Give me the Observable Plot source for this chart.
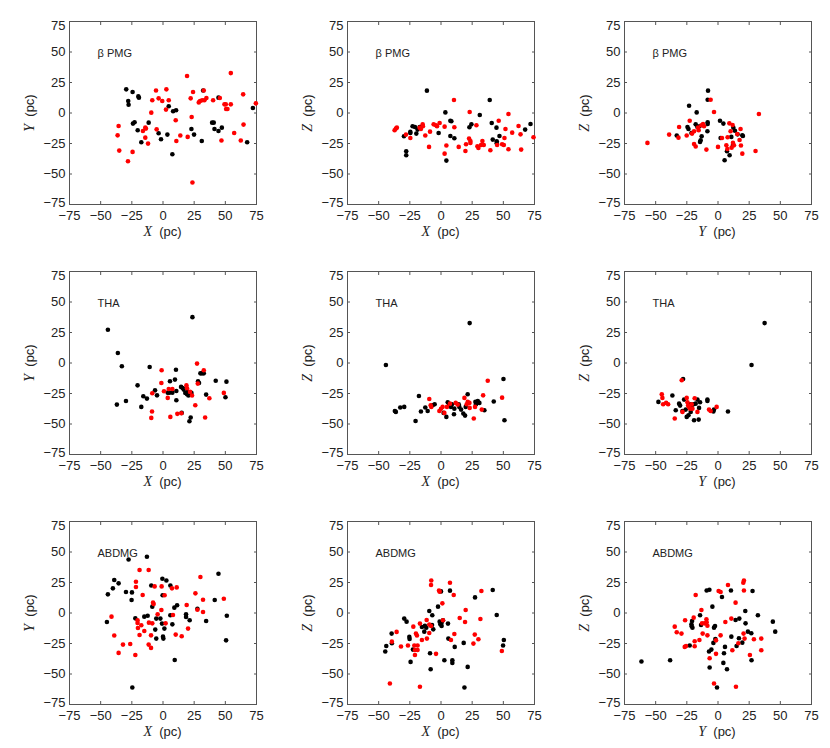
<!DOCTYPE html>
<html><head><meta charset="utf-8">
<script src="https://cdn.jsdelivr.net/npm/d3@7"></script>
<script src="https://cdn.jsdelivr.net/npm/@observablehq/plot@0.6"></script>
<style>
body{margin:0;background:#fff;font-family:"Liberation Sans",Arial,sans-serif}
#wrap{position:relative;width:830px;height:748px;overflow:hidden}
.panel{position:absolute}
.lab{position:absolute;font-size:13px;color:#222;white-space:nowrap;line-height:1}
.lab i{font-family:"Liberation Serif","DejaVu Serif",serif;font-size:14px}
</style></head><body><div id="wrap"></div><script>
// ---- data (pc) ----
const groups = ["β PMG", "THA", "ABDMG"];
const projections = [["X", "Y"], ["X", "Z"], ["Y", "Z"]];
const tickValues = [-75, -50, -25, 0, 25, 50, 75];

// β PMG
const bpmgXY_black = [[-29.5,19.4],[-27.9,9.8],[-27.6,6.8],[-24.4,17.2],[-19.3,12.6],[-19.8,13.6],[-24.1,-8.7],[-22.8,-7.6],[-20.3,-14.2],[-11.5,-7.9],[-17.4,-24],[-3.5,-16.6],[-1.6,-21.5],[3.5,-17.7],[4.6,5.5],[8.1,1.4],[10.5,2.2],[7.5,-33.8],[22.8,-13.1],[24.9,-17.7],[31.1,-22.9],[32.2,18.5],[39.4,-7.9],[40.7,-7.9],[41.3,-13.1],[44.5,-14.7],[47.2,-12],[44.5,12.6],[67.5,-24],[72.1,4.1]];
const bpmgXY_red = [[-35.6,-10.6],[-36.4,-18.3],[-35.1,-30.8],[-28.1,-39.5],[-24.4,-31.9],[-16.1,-14.7],[-14.2,-12],[-14.2,-20.2],[-12,-25.1],[-9.4,0.3],[-8.6,10.4],[-13.7,-12.8],[-5.6,18.5],[-5.1,-13.4],[-3.5,12],[-0.6,9.8],[2.7,19.4],[2.4,2.8],[4.6,10.4],[10.2,-6],[10.7,-22.9],[13.9,-18.5],[19.3,30.3],[19.8,-19.6],[22.2,12],[23,-3.3],[24.1,17.2],[23.6,-57],[28.7,8.7],[29.7,9.8],[31.4,10.4],[32.7,18.5],[33.2,10.4],[34.8,12.3],[40.2,10.4],[49.3,7.1],[50.4,7.1],[50.6,3.3],[51.7,3.3],[45.6,12.3],[46.9,-22.6],[54.4,7.1],[54.4,32.7],[57.1,-16.4],[62.4,-22.6],[64.3,15.3],[64.6,-9.5],[74.5,7.9]];
const bpmgXZ_black = [[-11.3,18.3],[-29.7,-19.1],[-27.9,-31.4],[-27.9,-34.6],[-24.6,-15.5],[-24.6,-16.4],[-22.8,-10.9],[-20.9,-11.5],[-19.8,-16.9],[-18.8,-13.6],[-17.1,-11.5],[-1.9,-16.4],[3.5,0.5],[4.3,-39],[7.5,-6.3],[8.3,-6.8],[7.5,-18.8],[10.7,-20.7],[22.8,-11.7],[24.4,-9.3],[31.1,-1.6],[39.1,10.6],[40.7,-8.2],[41.5,-21.8],[44.5,-12],[44.7,-23.2],[44.7,-24.8],[46.9,-18.8],[71.8,-9],[67.5,-13.6]];
const bpmgXZ_red = [[-37.2,-14.2],[-36.2,-12.8],[-35.4,-12],[-28.1,-17.7],[-24.6,-20.5],[-17.1,-12],[-14.7,-9.3],[-14.5,-10.9],[-16.1,-13.1],[-12.6,-18.5],[-9.6,-27.8],[-8.8,-15.3],[-5.9,-9.3],[-4,-10.1],[-3.2,-10.9],[-1.1,-8.2],[2.9,-11.2],[2.9,-33.3],[4.3,-26.7],[10.4,10.6],[10.7,-11.7],[14.2,-27.8],[19.6,-31.1],[20.1,-25.6],[22.5,-21],[23,0.8],[23.6,-22.9],[23.6,-24.5],[28.4,-10.1],[29.2,-27.3],[30,-28.6],[32.1,-26.2],[33.2,-22.9],[34.3,-26.2],[39.6,-30.5],[46.3,-6.3],[45,-26.2],[49,-25.6],[50.4,-26.2],[50.9,-20.5],[51.7,-13.1],[54.1,-29.7],[54.1,-0.8],[57.1,-16.1],[62.2,-10.6],[63.8,-17.5],[64.3,-30],[74.2,-19.9]];
const bpmgYZ_black = [[-8,18.3],[-8.3,10.9],[-23.2,6],[-17.1,0.5],[-33.1,-18.5],[-24.5,-11.5],[-23.7,-13.1],[-21.3,-16.4],[-17.9,-9.3],[-16.5,-11.5],[-14.9,-10.9],[-13.1,-19.1],[-13.9,-22.4],[-14.4,-23.7],[-8.3,-7.6],[-8.3,-9],[-8.5,-15],[1.6,-6.3],[2.1,-20.5],[4.3,-8.7],[5.3,-38.7],[7.2,-31.4],[9.3,-34.6],[12.3,-12],[13.6,-14.5],[15.7,-17.5],[19.5,-18.3],[20,-18.8],[10.7,-19.6],[12,-26.2]];
const bpmgYZ_red = [[-5.9,10.9],[-56.6,-24.5],[-39.2,-17.7],[-31.2,-11.5],[-31.7,-20.2],[-25.1,-18.5],[-22.7,-6.3],[-20.8,-16.9],[-19.2,-15],[-19.2,-25.4],[-17.9,-27.5],[-16,-12],[-15.5,-14.2],[-13.3,-10.1],[-12,-9],[-11.2,-10.9],[-9.3,-30],[-3.2,0.8],[0,-27.8],[3.2,-20.5],[6.7,-26.5],[7.5,-29.5],[7.7,-19.9],[9.1,-8.5],[11.7,-9.8],[10.1,-15],[10.9,-28.4],[12,-24.5],[12.8,-26.5],[15.5,-17.2],[17.3,-22.1],[18.1,-13.1],[18.4,-26.7],[19.5,-33.3],[30.1,-31.1],[32.8,-0.8]];

// THA
const thaXY_black = [[-44.2,27.3],[-36.2,8.2],[-33,-2.7],[-37,-34.1],[-29.7,-31.1],[-20.4,-18.3],[-17.4,-36],[-15.8,-27.3],[-12.9,-29.2],[-10.7,-3.3],[-6.4,-22.4],[-4.8,-26.5],[5.6,-15],[3.8,-24.3],[5.1,-24.3],[7.5,-24.3],[9.6,-13.6],[10.4,-5.5],[10.7,-22.9],[10.7,-30.5],[14.5,-19.6],[15.8,-20.5],[16.6,-21.8],[15,-40.9],[17.9,-24.5],[19.3,-25.6],[19.8,-23.7],[20.4,-26.7],[21.4,-24],[21.2,-47.7],[22.2,-44.7],[23.6,37.6],[22.8,-24.5],[28.1,-15],[28.9,-16.4],[30,-8.5],[31.3,-8.5],[32.7,-8.5],[34.6,-25.9],[42.3,-14.5],[50.1,-28.1],[50.9,-15.3]];
const thaXY_red = [[-1.1,-6],[-1.3,-16.4],[-8.6,-24.8],[-8.8,-39.8],[-9.4,-45],[0.8,-23.2],[3.8,-28.6],[4.6,-21.3],[7.5,-21.3],[5.9,-44.2],[11.5,-41.7],[14.7,-41.2],[18.8,-18.3],[19.3,-20.7],[21.7,-23.7],[23.3,-26.7],[25.9,-34.6],[27.3,-0.5],[27.9,-16.9],[32.7,-6],[33.8,-44.7],[37.2,-28.9],[48.8,-24.5]];
const thaXZ_black = [[-44.2,-1.6],[-37,-39.3],[-36.2,-40.1],[-32.7,-36.5],[-29.5,-36],[-20.4,-47.5],[-17.7,-27],[-16.1,-39.8],[-12.6,-36.5],[-10.7,-39.3],[-6.7,-34.6],[-5.1,-33.8],[2.1,-40.9],[4.3,-44.2],[5.4,-32.2],[6.7,-33.8],[8,-36],[8.8,-33.8],[10.4,-42],[10.7,-37.4],[14.2,-33.8],[14.7,-36],[16.1,-38.2],[17.9,-41.4],[19.3,-43.1],[19.8,-36],[21.4,-25.6],[23,32.7],[27.6,-31.9],[29.5,-31.1],[30.8,-32.7],[28.1,-33.8],[34.8,-38.7],[42.3,-31.6],[50.1,-13.1],[50.9,-46.9]];
const thaXZ_red = [[-9.4,-29.5],[-8.3,-34.6],[-7.8,-36],[-1.3,-39.3],[0,-37.6],[1.3,-36],[2.7,-40.9],[4.8,-36],[7.2,-33.3],[11.8,-32.7],[13.4,-34.1],[18.8,-28.6],[20.6,-33.8],[21.4,-31.9],[22.8,-32.7],[23,-36.8],[26.3,-45.5],[27.3,-36],[32.7,-38.2],[33.8,-26.5],[37.5,-14.5],[49,-28.4]];
const thaYZ_black = [[37.4,32.7],[26.9,-1.6],[8,-39.8],[-3.2,-38.2],[-3.7,-39.8],[-8.5,-30],[-8.5,-31.1],[-14.4,-32.2],[-15.2,-36.8],[-19.2,-46.9],[-15.5,-46.4],[-17.9,-33.3],[-16.5,-30],[-28,-13.1],[-36.6,-26.7],[-47.8,-31.9],[-33.9,-38.7],[-31.2,-33.3],[-30.4,-34.9],[-27.2,-30],[-25.9,-38.2],[-25.1,-44.2],[-23.7,-42.8],[-21.9,-40.1],[-28.5,-39.3],[-22.4,-33.8],[-21.3,-36],[-19.7,-33.8]];
const thaYZ_red = [[-29.1,-14.2],[-45.1,-25.6],[-44.6,-28.6],[-44,-33.8],[-41.6,-32.7],[-40,-33.8],[-34.7,-45.5],[-28.5,-40.1],[-25.1,-28.6],[-24.5,-32.2],[-24,-34.9],[-23.2,-36],[-22.4,-37.4],[-21.1,-33.8],[-20.5,-37.4],[-18.7,-28.9],[-16.5,-40.1],[-7.2,-38.2],[-5.9,-39.3],[-1.1,-36]];

// ABDMG
const abdmgXY_black = [[-27.6,43.9],[-12.9,46.1],[-39.1,27],[-35.6,24.3],[-40.2,20.2],[-44.2,15.3],[-29.7,17.2],[-24.9,16.9],[-25.2,10.6],[-45,-7.4],[-22.2,-4.4],[-15,-3],[-12.3,-2.2],[-9.4,22.6],[-8.6,5.2],[-5.4,-4.6],[-6.2,-13.6],[-5.4,-21],[-2.1,-4.6],[-0.5,28.1],[2.7,26.7],[-0.3,14.5],[-0.8,-8.7],[1.1,-12.8],[0,-19.4],[0.3,-21],[5.9,22.6],[5.9,-1.9],[7.5,-9.3],[9.1,4.4],[11.3,6.3],[9.4,-38.5],[18.5,-1.1],[18.5,-3.3],[21.4,-6],[27.6,3.5],[34.6,-6.5],[41.5,10.6],[44.5,32.2],[51.2,-2.2],[50.6,-22.4],[-24.6,-61.1]];
const abdmgXY_red = [[-41.3,-3],[-39.1,-18.5],[-32.1,-25.9],[-35.6,-32.7],[-26.3,-25.4],[-22.2,-34.4],[-21.7,25.6],[-21.7,21.3],[-18.8,35.2],[-11.5,35.2],[-16.3,14.7],[-20.4,-6],[-20.4,-8.2],[-20.1,-12.3],[-17.4,-10.1],[-18.8,-18],[-15,-14.7],[-11.3,-7.9],[-8.6,-8.5],[-9.6,-18.3],[-11.5,-25.9],[-9.6,-28.6],[-8,8.5],[-7.5,7.4],[-6.7,21.8],[-4.3,-1.1],[-1.1,21.8],[-1.3,2.5],[1.3,14.5],[2.1,-8.5],[8,-1.6],[7.2,20.2],[11,21],[10.2,-17.7],[15,-19.1],[19,6.5],[20.1,-12.8],[26,16.1],[27.6,2.7],[30,29.5],[32.1,10.9],[32.1,0.8],[48.8,11.7]];
const abdmgXZ_black = [[-44.7,-31.6],[-43.9,-27],[-39.6,-16.9],[-39.4,-24.8],[-29.5,-4.6],[-27.6,-7.1],[-25.4,-19.6],[-25.2,-21.3],[-24.4,-40.1],[-22.5,-30],[-15.3,-11.5],[-12.9,-10.4],[-11.8,-12],[-13.4,-15.3],[-6.2,-13.4],[-7.2,-9.8],[-9.4,1.6],[-7,-1.9],[-8.8,-33],[-8.3,-46.1],[-2.4,5.2],[-1.1,-7.1],[-0.5,-9.3],[0.5,-7.9],[0.5,-10.6],[1.6,-6],[0,17.7],[2.7,-38.7],[5.6,-8.7],[5.9,-21],[7.2,18.3],[9.1,-38.7],[9.1,-40.9],[11,-27.8],[18.2,-24.5],[18.8,-61.1],[21.4,-44.2],[27.3,12.8],[41.5,18.8],[44.7,-1.6],[50.4,-22.1],[49.8,-26.7]];
const abdmgXZ_red = [[-41,-57.8],[-39.4,-23.5],[-35.6,-15.5],[-32.1,-27.5],[-26.5,-26.7],[-22.2,-11.2],[-21.4,-26.7],[-20.9,-30.3],[-20.9,-34.4],[-18.8,-26.7],[-18.8,-30.3],[-20.1,-16.9],[-19.3,-18.5],[-16.9,-60.5],[-16.9,-8.7],[-15.3,-22.1],[-11.5,-5.7],[-11.3,-21],[-9.4,-9.5],[-9.4,-16.4],[-8,-10.6],[-7.8,26.7],[-8,22.9],[-4,-33.5],[-1.6,18.5],[-1.1,17.5],[1.1,7.9],[1.6,-6],[7.2,24.8],[8,-22.1],[10.2,14.7],[10.7,-17.2],[15,-4.1],[19.3,-7.4],[19.8,2.5],[27.1,-17.7],[30,-21.5],[26,-25.1],[31.6,-4.9],[32.4,18],[48.8,-31.1]];
const abdmgYZ_black = [[-61.4,-39.8],[-38.4,-38.7],[-21.3,-9.3],[-20.8,-6.5],[-20.5,-12],[-21.1,-10.9],[-22.7,-26.7],[-14.4,-1.9],[-13.6,-9.8],[-9.1,18.5],[-6.9,19.1],[-6.7,-44.7],[-7.2,-31.6],[-4.5,5.2],[-5.3,-30],[-3.2,-12],[-2.4,-10.6],[-3.7,-24.5],[-2.1,-21.3],[-0.8,-61.1],[3.2,13.1],[4.3,-40.9],[5.6,-27.8],[4.8,-33],[7.2,-46.1],[10.4,18.5],[10.7,-19.4],[14.1,-5.7],[17.1,-4.6],[16.8,-20.7],[14.9,-27],[21.9,1.6],[22.1,-8.5],[24,-15.3],[26.7,-16.6],[26.9,-38.7],[27.7,18],[19.5,-24.3],[32,-1.9],[44,-7.1],[45.9,-15.3]];
const abdmgYZ_red = [[-34.7,-11.2],[-33.1,-15.8],[-29.3,-16.9],[-26.7,-27.8],[-25.6,-27],[-26.4,-6],[-19.5,-3.8],[-18.7,-23.2],[-18.7,-27.3],[-17.9,14.7],[-14.9,-22.1],[-13.3,2.5],[-12.8,-8.5],[-12.3,-16.9],[-10.7,-8.5],[-9.3,-5.2],[-9.1,-7.6],[-8.5,-10.4],[-8.5,-18.3],[-6.7,-37.1],[-3.2,-57.8],[-1.6,-22.4],[-1.6,-33.5],[0.5,18],[2.1,17.2],[2.1,-18.3],[5.9,-7.4],[8,22.9],[10.7,-4.6],[11.5,-30.5],[14.1,8.5],[14.4,-60.5],[16.3,-24.8],[20.3,24.8],[20.8,26.7],[20.8,18.5],[20.5,-16.9],[21.3,-21],[25.6,-34.4],[28.8,-21.5],[34.7,-21],[34.7,-30.5]];

const panelData = [
  [[bpmgXY_black, bpmgXY_red], [bpmgXZ_black, bpmgXZ_red], [bpmgYZ_black, bpmgYZ_red]],
  [[thaXY_black, thaXY_red], [thaXZ_black, thaXZ_red], [thaYZ_black, thaYZ_red]],
  [[abdmgXY_black, abdmgXY_red], [abdmgXZ_black, abdmgXZ_red], [abdmgYZ_black, abdmgYZ_red]]
];

// ---- layout ----
const frameLefts = [69, 347, 623.5];
const frameTops = [21, 271, 521];
const FW = 187, FH = 183;
const ML = 50, MR = 10, MT = 10, MB = 40;
const wrap = document.getElementById("wrap");
const inner = tickValues.slice(1, -1);
const axisStroke = "#555", textFill = "#222";

function makePanel(row, col) {
  const [black, red] = panelData[row][col];
  const svg = Plot.plot({
    width: ML + FW + MR, height: MT + FH + MB,
    marginLeft: ML, marginRight: MR, marginTop: MT, marginBottom: MB,
    style: {fontFamily: "'Liberation Sans', Arial, sans-serif", fontSize: "13px", background: "transparent", overflow: "visible"},
    x: {domain: [-75, 75], label: null},
    y: {domain: [-75, 75], label: null},
    marks: [
      Plot.axisX({anchor: "bottom", ticks: tickValues, tickSize: -3, tickPadding: 9, stroke: axisStroke, fill: textFill, label: null}),
      Plot.axisX({anchor: "top", ticks: tickValues, tickSize: -3, stroke: axisStroke, fill: "none", label: null}),
      Plot.axisY({anchor: "left", ticks: inner, tickSize: -3, tickPadding: 7, stroke: axisStroke, fill: textFill, label: null}),
      Plot.axisY({anchor: "left", ticks: [75], tickSize: 0, tickPadding: 4, dy: 4, fill: textFill, label: null}),
      Plot.axisY({anchor: "left", ticks: [-75], tickSize: 0, tickPadding: 4, dy: -2, fill: textFill, label: null}),
      Plot.axisY({anchor: "right", ticks: tickValues, tickSize: -3, stroke: axisStroke, fill: "none", label: null}),
      Plot.frame({stroke: axisStroke, strokeWidth: 1}),
      Plot.dot(black, {x: d => d[0], y: d => d[1], r: 2.3, fill: "#000", stroke: null}),
      Plot.dot(red, {x: d => d[0], y: d => d[1], r: 2.3, fill: "#ff0000", stroke: null}),
      Plot.text([groups[row]], {frameAnchor: "top-left", dx: 28, dy: 32, lineAnchor: "middle", textAnchor: "start", fontSize: 11, fill: textFill})
    ]
  });
  svg.classList.add("panel");
  svg.style.left = (frameLefts[col] - ML) + "px";
  svg.style.top = (frameTops[row] - MT) + "px";
  wrap.appendChild(svg);

  const [xn, yn] = projections[col];
  const xl = document.createElement("div");
  xl.className = "lab";
  xl.innerHTML = `<i>${xn}</i>&nbsp;&nbsp;(pc)`;
  xl.style.left = (frameLefts[col] + FW / 2) + "px";
  xl.style.top = (frameTops[row] + FH + 28) + "px";
  xl.style.transform = "translate(-50%,-50%)";
  wrap.appendChild(xl);

  const yl = document.createElement("div");
  yl.className = "lab";
  yl.innerHTML = `<i>${yn}</i>&nbsp;&nbsp;(pc)`;
  yl.style.left = (frameLefts[col] - 39) + "px";
  yl.style.top = (frameTops[row] + FH / 2) + "px";
  yl.style.transform = "translate(-50%,-50%) rotate(-90deg)";
  wrap.appendChild(yl);
}

for (let r = 0; r < 3; r++) for (let c = 0; c < 3; c++) makePanel(r, c);
</script></body></html>
